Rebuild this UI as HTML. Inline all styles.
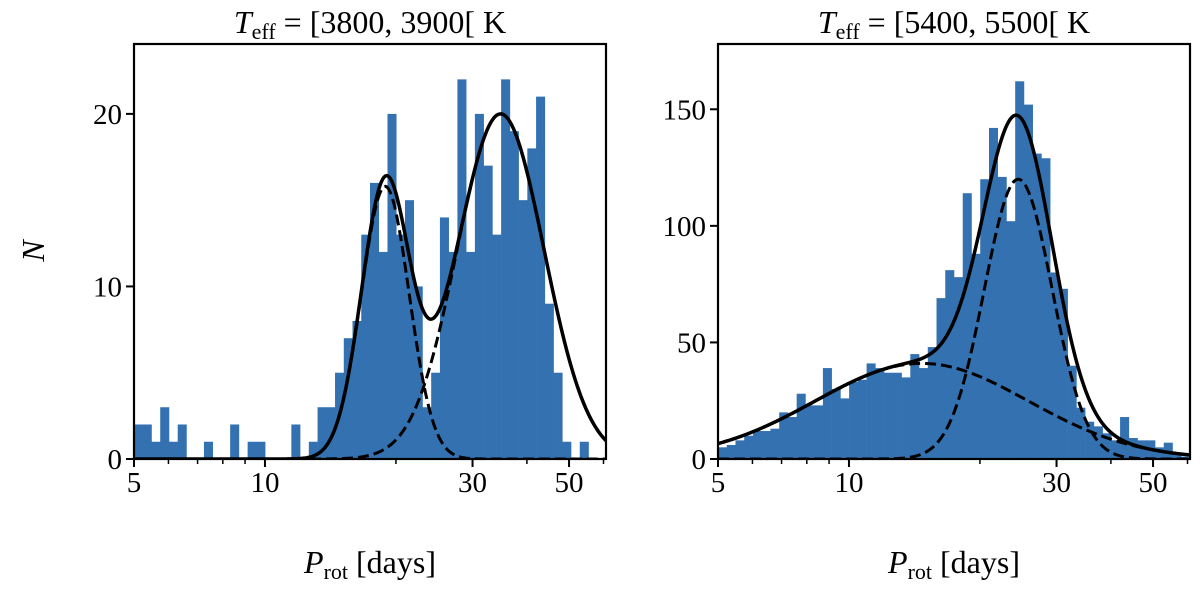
<!DOCTYPE html>
<html><head><meta charset="utf-8"><style>
body{margin:0;background:#fff}
svg text{font-family:"Liberation Serif","DejaVu Serif",serif;fill:#000}
</style></head><body>
<svg id="c" width="1200" height="591" viewBox="0 0 1200 591" xmlns="http://www.w3.org/2000/svg"></svg>
<script>
const countsA = [2,2,1,3,1,2,0,0,1,0,0,2,0,1,1,0,0,0,2,0,1,3,3,5,7,8,13,16,12,20,13,15,10,3,5,14,12,22,12,20,17,13,22,19,15,18,21,9,5,1,0,1,0,0];
const countsB = [5,6,8,10,12,12,13,20,18,28,23,23,39,30,26,33,34,41,39,37,37,35,45,39,48,69,81,78,114,88,120,142,121,102,162,152,131,129,80,73,40,22,16,14,11,8,18,9,8,8,5,7,2,1];
const compsA = [{amp:15.8,mu:18.9,sig:0.055},{amp:20.0,mu:34.8,sig:0.1}];
const compsB = [{amp:41,mu:14.7,sig:0.245},{amp:120,mu:24.5,sig:0.078}];
const titlesA = ["3800","3900"];
const titlesB = ["5400","5500"];
const yTicksA = [0,10,20];
const yTicksB = [0,50,100,150];
const xTickLabels = [5,10,30,50];
const xMinor = [6,7,8,9,20,40,60];
const xMin = 5, xMax = 60.8, nBins = 54;

const NS="http://www.w3.org/2000/svg";
const svg=document.getElementById('c');
function mk(tag,attrs,parent){const e=document.createElementNS(NS,tag);for(const k in attrs)e.setAttribute(k,attrs[k]);(parent||svg).appendChild(e);return e;}

function panel(name,x0,x1,y0,y1,yMax,counts,comps,yTicks,titles){
  const g=mk('g',{});
  
  
  const lx0=Math.log10(xMin),lx1=Math.log10(xMax);
  const X=v=>x0+(Math.log10(v)-lx0)/(lx1-lx0)*(x1-x0);
  const XL=l=>x0+(l-lx0)/(lx1-lx0)*(x1-x0);
  const Y=v=>y0-v/yMax*(y0-y1);
  const bw=(lx1-lx0)/nBins;
  counts.forEach((c,i)=>{
    if(c<=0)return;
    const a=XL(lx0+i*bw),b=XL(lx0+(i+1)*bw);
    const r=mk('rect',{x:a,y:Y(c),width:b-a+0.3,height:Y(0)-Y(c),fill:'#3471b0'},g);
    
    
  });
  const gauss=(c,l)=>c.amp*Math.exp(-Math.pow(l-Math.log10(c.mu),2)/(2*c.sig*c.sig));
  const cp=mk('clipPath',{id:'cl'+name},g);mk('rect',{x:x0,y:y1,width:x1-x0,height:y0-y1},cp);
  comps.forEach(c=>{
    let d='';for(let k=0;k<=400;k++){const l=lx0+(lx1-lx0)*k/400;d+=(k?'L':'M')+XL(l).toFixed(2)+','+Y(gauss(c,l)).toFixed(2);}
    const p=mk('path',{d:d,fill:'none',stroke:'#000','stroke-width':3,'stroke-dasharray':'11,5','clip-path':'url(#cl'+name+')'},g);
    
    
  });
  let d='';for(let k=0;k<=400;k++){const l=lx0+(lx1-lx0)*k/400;let s=0;comps.forEach(c=>s+=gauss(c,l));d+=(k?'L':'M')+XL(l).toFixed(2)+','+Y(s).toFixed(2);}
  const tp=mk('path',{d:d,fill:'none',stroke:'#000','stroke-width':3.5,'clip-path':'url(#cl'+name+')'},g);
  
  
  const fr=mk('rect',{x:x0,y:y1,width:x1-x0,height:y0-y1,fill:'none',stroke:'#000','stroke-width':2.2},g);
  
  
  xTickLabels.forEach(v=>{
    mk('line',{x1:X(v),x2:X(v),y1:y0,y2:y0+8,stroke:'#000','stroke-width':2},g);
    const t=mk('text',{x:X(v),y:y0+33,'text-anchor':'middle','font-size':29},g);t.textContent=v;
    
    
  });
  xMinor.forEach(v=>{if(v<=xMax)mk('line',{x1:X(v),x2:X(v),y1:y0,y2:y0+5,stroke:'#000','stroke-width':1.5},g);});
  yTicks.forEach(v=>{
    mk('line',{x1:x0-8,x2:x0,y1:Y(v),y2:Y(v),stroke:'#000','stroke-width':2},g);
    const t=mk('text',{x:x0-12,y:Y(v)+10,'text-anchor':'end','font-size':29},g);t.textContent=v;
    
    
  });
  const cx=(x0+x1)/2;
  const tt=mk('text',{x:cx,y:33,'text-anchor':'middle','font-size':32},g);
  tt.innerHTML='<tspan font-style="italic">T</tspan><tspan font-size="22" dy="6">eff</tspan><tspan dy="-6"> = [</tspan>'+titles[0]+', '+titles[1]+'[ K';
  
  
  const xl=mk('text',{x:cx,y:573,'text-anchor':'middle','font-size':32},g);
  xl.innerHTML='<tspan font-style="italic">P</tspan><tspan font-size="22" dy="6">rot</tspan><tspan dy="-6"> [days]</tspan>';
  
  
}
panel('left-panel',134,606,459,44,24.05,countsA,compsA,yTicksA,titlesA);
panel('right-panel',718,1190,459,44,178,countsB,compsB,yTicksB,titlesB);
const yl=mk('text',{x:0,y:0,'font-size':32,'font-style':'italic','text-anchor':'middle',transform:'translate(44,251) rotate(-90)'});
yl.textContent='N';


</script>
</body></html>
